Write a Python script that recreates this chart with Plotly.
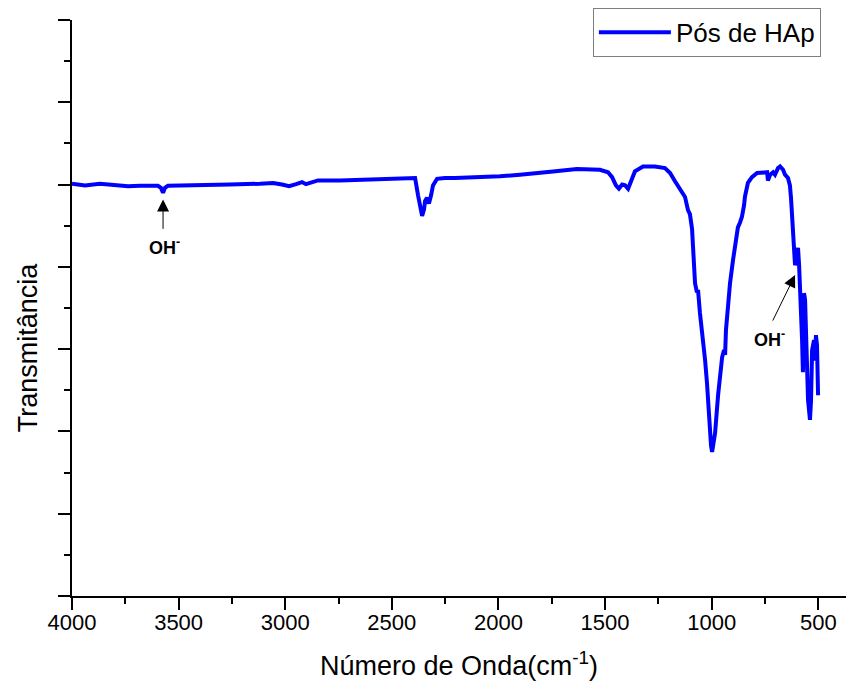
import plotly.graph_objects as go

# Wavenumber (cm-1) and transmittance (arb. units)
wavenumber = [4000, 3939, 3869, 3798, 3737, 3681, 3634, 3597, 3583, 3573, 3564, 3550,
              3493, 3400, 3259, 3118, 3057, 3015, 2982, 2949, 2921, 2903, 2874, 2846,
              2743, 2602, 2462, 2391, 2377, 2368, 2358, 2349, 2344, 2335, 2326, 2316,
              2307, 2288, 2251, 2204, 2087, 1993, 1899, 1805, 1744, 1632, 1524, 1486,
              1467, 1449, 1435, 1420, 1406, 1392, 1378, 1360, 1322, 1266, 1219, 1195,
              1172, 1148, 1125, 1111, 1102, 1092, 1083, 1078, 1069, 1064, 1055, 1041,
              1031, 1022, 1012, 1003, 998, 994, 984, 970, 961, 951, 942, 937, 933, 923,
              914, 900, 886, 877, 867, 858, 848, 844, 830, 811, 787, 764, 740, 736, 726,
              712, 703, 689, 679, 665, 656, 642, 633, 628, 619, 609, 604, 600, 595, 590,
              586, 581, 576, 572, 567, 562, 558, 548, 539, 534, 529, 525, 520, 515, 511,
              506, 501]
transmittance = [50.1, 49.9, 50.1, 49.9, 49.8, 49.85, 49.9, 49.85, 49.6, 49.0, 49.6, 49.85,
                 49.9, 49.9, 50.0, 50.1, 50.2, 50.0, 49.8, 50.05, 50.3, 50.05, 50.3, 50.5,
                 50.5, 50.6, 50.7, 50.8, 48.7, 47.2, 46.2, 47.0, 48.0, 48.4, 47.7, 48.7,
                 49.9, 50.7, 50.8, 50.8, 50.9, 51.0, 51.2, 51.4, 51.6, 51.9, 51.8, 51.5,
                 50.9, 49.9, 49.5, 50.0, 49.9, 49.5, 50.4, 51.6, 52.2, 52.2, 52.0, 51.4,
                 50.4, 49.4, 48.5, 46.9, 46.4, 44.6, 41.0, 38.0, 36.9, 37.2, 34.4, 31.5,
                 28.7, 25.9, 21.4, 18.3, 17.5, 18.0, 19.8, 24.4, 26.9, 29.0, 29.9, 29.3,
                 32.3, 35.6, 38.0, 40.8, 43.3, 44.8, 45.4, 46.1, 47.5, 48.5, 50.2, 50.9,
                 51.4, 51.5, 51.5, 50.5, 51.2, 51.5, 51.2, 52.0, 52.2, 51.8, 51.2, 50.8,
                 49.9, 48.4, 43.6, 40.2, 40.8, 42.0, 42.3, 40.2, 37.7, 37.0, 31.1, 27.2,
                 36.8, 36.0, 32.3, 23.8, 21.4, 23.8, 29.9, 30.5, 31.1, 28.6, 31.7, 30.5,
                 24.4]

series_name = "Pós de HAp"
x_ticks = [4000, 3500, 3000, 2500, 2000, 1500, 1000, 500]
x_minor = [3750, 3250, 2750, 2250, 1750, 1250, 750]

FONT = "Arial, 'Liberation Sans', sans-serif"

fig = go.Figure()
fig.add_trace(go.Scatter(
    x=wavenumber, y=transmittance, mode="lines", name=series_name,
    line=dict(color="#0000ff", width=4),
))

fig.update_layout(
    width=846, height=690,
    margin=dict(l=72, r=0, t=20, b=94),
    paper_bgcolor="white", plot_bgcolor="white",
    font=dict(family=FONT, color="black"),
    showlegend=True,
    legend=dict(
        x=0.673, y=1.021, xanchor="left", yanchor="top",
        bordercolor="#7f7f7f", borderwidth=1, bgcolor="white",
        font=dict(size=26, family=FONT), itemwidth=72,
    ),
)

fig.update_xaxes(
    range=[4000, 370], tickvals=x_ticks,
    ticks="outside", ticklen=12, tickwidth=2, tickcolor="black",
    ticklabelstandoff=-6,
    minor=dict(tickvals=x_minor, ticks="outside", ticklen=6, tickwidth=2, tickcolor="black"),
    showline=True, linecolor="black", linewidth=2, mirror=False,
    showgrid=False, zeroline=False,
    tickfont=dict(size=22, family=FONT),
    title=dict(text="Número de Onda(cm<sup>-1</sup>)", font=dict(size=27, family=FONT), standoff=22),
)
fig.update_yaxes(
    range=[0, 70], dtick=10, tick0=0, showticklabels=False,
    ticks="outside", ticklen=12, tickwidth=2, tickcolor="black",
    minor=dict(dtick=5, tick0=0, ticks="outside", ticklen=6, tickwidth=2, tickcolor="black"),
    showline=True, linecolor="black", linewidth=2, mirror=False,
    showgrid=False, zeroline=False,
)

# Y axis title (placed off-centre as in the reference)
fig.add_annotation(xref="paper", yref="paper", x=-0.0568, y=0.432,
                   xanchor="center", yanchor="middle",
                   text="Transmitância", textangle=-90, showarrow=False,
                   font=dict(size=27, family=FONT, color="black"))

# Arrows
fig.add_annotation(x=3573, y=48.2, ax=0, ay=31, text="", showarrow=True,
                   arrowhead=2, arrowsize=2.4, arrowwidth=1, arrowcolor="black")
fig.add_annotation(x=609, y=39.0, ax=-23, ay=47, text="", showarrow=True,
                   arrowhead=2, arrowsize=2.4, arrowwidth=1, arrowcolor="black")
# Labels
fig.add_annotation(x=3564, y=42.5, text="<b>OH<sup>-</sup></b>", showarrow=False,
                   font=dict(size=18, family=FONT, color="black"))
fig.add_annotation(x=731, y=31.3, text="<b>OH<sup>-</sup></b>", showarrow=False,
                   font=dict(size=18, family=FONT, color="black"))

fig.write_html("out.html")
